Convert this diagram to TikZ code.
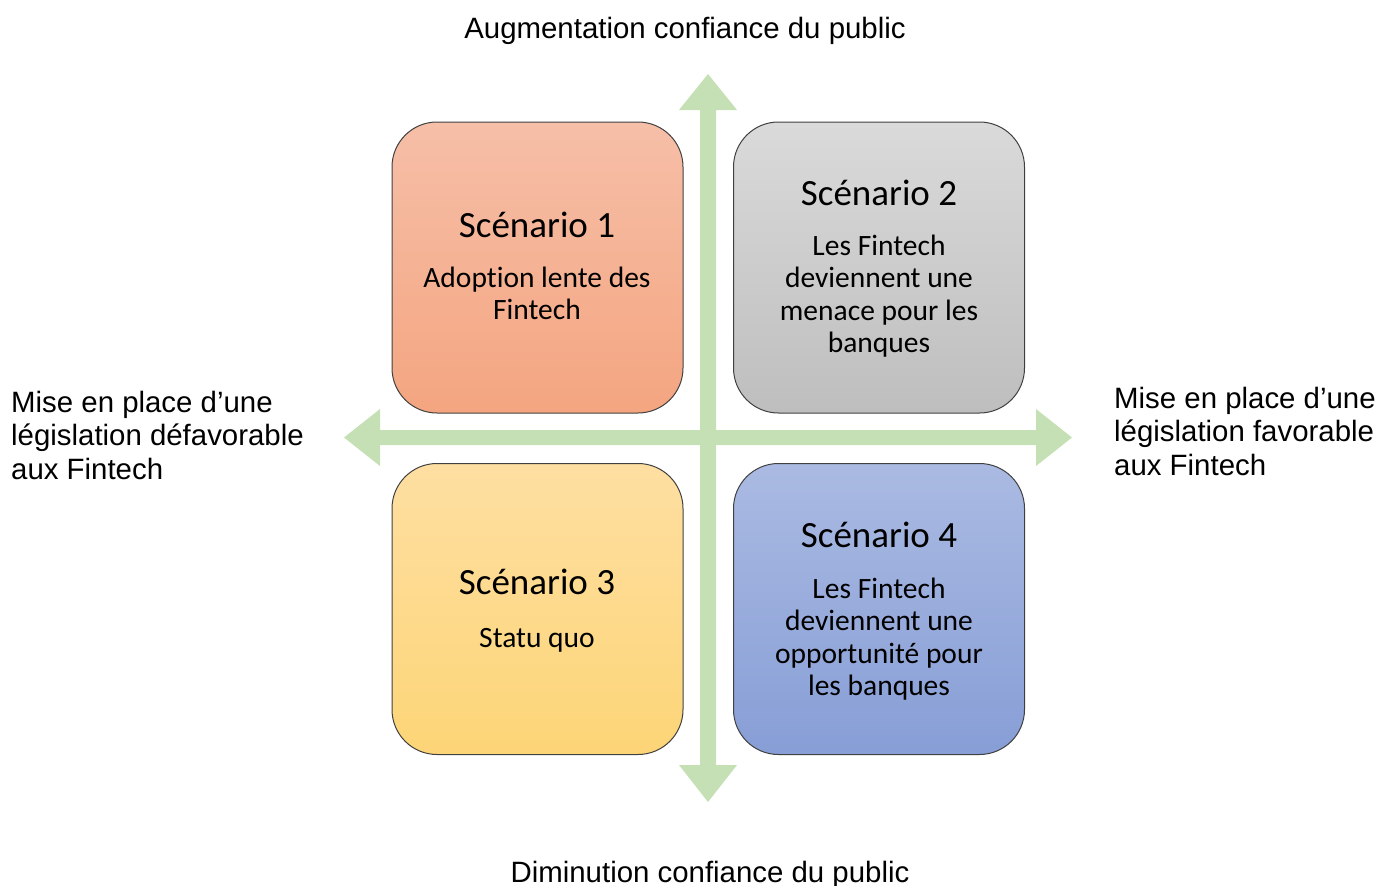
\documentclass[tikz,border=0pt]{standalone}
\usepackage{fontspec}
\setmainfont{Liberation Sans}
\newfontfamily\calib[RawFeature={-liga;-clig}]{Carlito}
\definecolor{axisgreen}{HTML}{C5E0B4}
\definecolor{redtop}{HTML}{F6BFA8}
\definecolor{redbot}{HTML}{F4A580}
\definecolor{graytop}{HTML}{DADADA}
\definecolor{graybot}{HTML}{BEBEBE}
\definecolor{yeltop}{HTML}{FEDFA2}
\definecolor{yelbot}{HTML}{FDD577}
\definecolor{bluetop}{HTML}{AABAE2}
\definecolor{bluebot}{HTML}{879ED6}
\definecolor{boxline}{HTML}{404040}
\begin{document}
\begin{tikzpicture}[x=1pt,y=-1pt,
  quad/.style={draw=boxline, line width=1pt, rounded corners=45pt,
    minimum width=291pt, minimum height=291pt, inner sep=0pt},
  quadtitle/.style={anchor=base, inner sep=0pt, font=\calib\fontsize{37}{44}\selectfont},
  quadbody/.style={anchor=base, inner sep=0pt, align=center, font=\calib\fontsize{29.5}{32.4}\selectfont},
  axislabel/.style={inner sep=0pt, font=\fontsize{29.4}{33.5}\selectfont},
  axis/.style={fill=axisgreen, draw=none}]
\useasboundingbox (0,0) rectangle (1390,886);
% axes
\fill[axis] (700,110) -- (679,110) -- (708,74) -- (737,110) -- (716,110)
  -- (716,765) -- (737,765) -- (708,802) -- (679,765) -- (700,765) -- cycle;
\fill[axis] (380,430) -- (380,409) -- (344,437.5) -- (380,466) -- (380,445)
  -- (1036,445) -- (1036,466) -- (1072,437.5) -- (1036,409) -- (1036,430) -- cycle;
% boxes
\node[quad, top color=redtop, bottom color=redbot] (q1) at (537.5,267.5) {};
\node[quad, top color=graytop, bottom color=graybot] (q2) at (879,267.5) {};
\node[quad, top color=yeltop, bottom color=yelbot] (q3) at (537.5,609) {};
\node[quad, top color=bluetop, bottom color=bluebot] (q4) at (879,609) {};
% box texts (anchor base = baseline of last line)
\node[quadtitle] (t1) at (537,237) {Scénario 1};
\node[quadbody] (b1) at (537,319.9) {Adoption lente des\\Fintech};
\node[quadtitle] (t2) at (879,205) {Scénario 2};
\node[quadbody] (b2) at (879,352.7) {Les Fintech\\deviennent une\\menace pour les\\banques};
\node[quadtitle] (t3) at (537,594) {Scénario 3};
\node[quadbody] (b3) at (537,647) {Statu quo};
\node[quadtitle] (t4) at (879,547) {Scénario 4};
\node[quadbody] (b4) at (879,695.7) {Les Fintech\\deviennent une\\opportunité pour\\les banques};
% axis labels
\node[axislabel, anchor=base] (top) at (685,38) {Augmentation confiance du public};
\node[axislabel, anchor=base] (bottom) at (710,882) {Diminution confiance du public};
\node[axislabel, anchor=base west, align=left] (left) at (11,479) {Mise en place d’une\\législation défavorable\\aux Fintech};
\node[axislabel, anchor=base west, align=left] (right) at (1114,475) {Mise en place d’une\\législation favorable\\aux Fintech};
\end{tikzpicture}
\end{document}
